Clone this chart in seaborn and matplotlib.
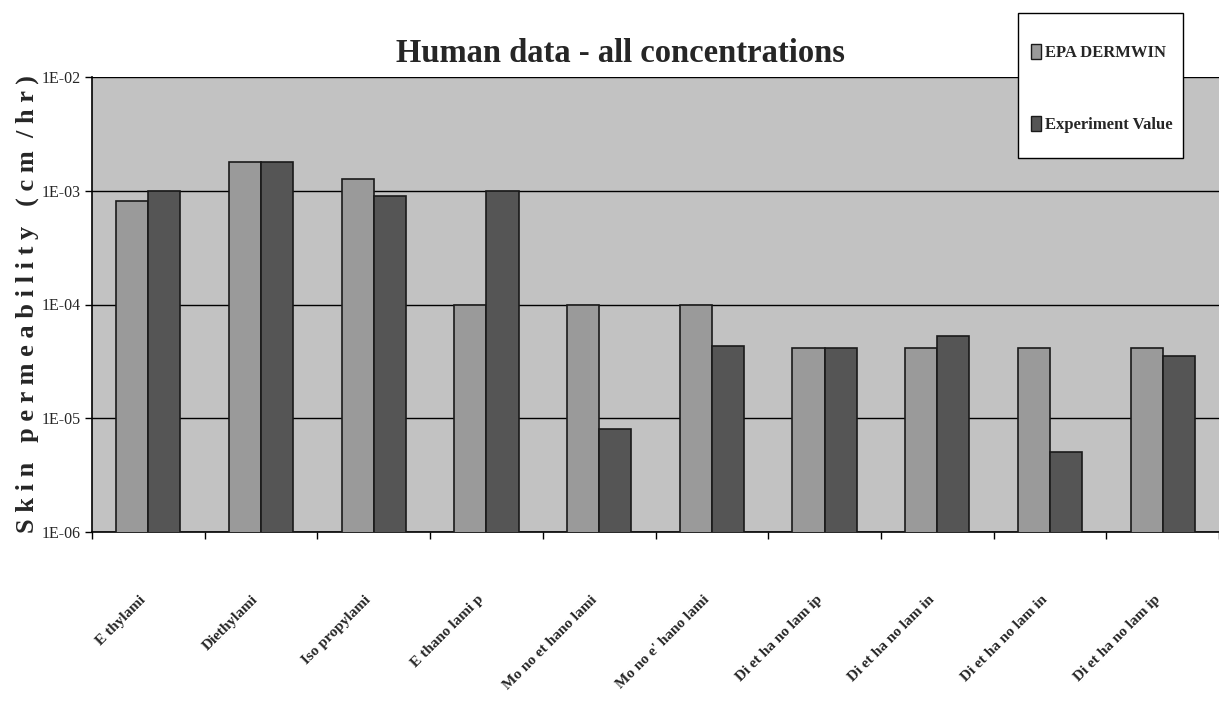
import numpy as np
import pandas as pd
import matplotlib
matplotlib.use("Agg")
import matplotlib.pyplot as plt
import seaborn as sns
from matplotlib.patches import Patch, Rectangle

categories = ["E thylami", "Diethylami", "Iso propylami", "E thano lami p",
              "Mo no et hano lami", "Mo no e' hano lami", "Di et ha no lam ip",
              "Di et ha no lam in", "Di et ha no lam in", "Di et ha no lam ip"]
epa_dermwin = [8.1e-4, 1.8e-3, 1.27e-3, 9.8e-5, 9.8e-5, 9.8e-5, 4.15e-5, 4.15e-5, 4.15e-5, 4.15e-5]
experiment = [1.0e-3, 1.8e-3, 9.0e-4, 1.0e-3, 8.0e-6, 4.3e-5, 4.15e-5, 5.3e-5, 5.0e-6, 3.5e-5]
series_names = ["EPA DERMWIN", "Experiment Value"]
ytick_values = [1e-6, 1e-5, 1e-4, 1e-3, 1e-2]
ytick_labels = ["1E-06", "1E-05", "1E-04", "1E-03", "1E-02"]

ids = [f"c{i}" for i in range(len(categories))]
df = pd.DataFrame({
    "cat": ids * 2,
    "series": [series_names[0]] * len(ids) + [series_names[1]] * len(ids),
    "value": epa_dermwin + experiment,
})

sns.set_style("white")
plt.rcParams["font.family"] = ["Liberation Serif", "DejaVu Serif"]

W, H = 1219, 702
fig = plt.figure(figsize=(W / 100, H / 100), dpi=100)
ax = fig.add_axes([92 / W, 1 - 532 / H, 1 - 92 / W, (532 - 77) / H])
ax.set_facecolor("#c2c2c2")
ax.set_yscale("log")

palette = {series_names[0]: "#9a9a9a", series_names[1]: "#555555"}
sns.barplot(data=df, x="cat", y="value", hue="series", order=ids,
            hue_order=series_names, palette=palette, width=0.57, gap=0,
            edgecolor="#1a1a1a", linewidth=1.2, saturation=1, ax=ax,
            legend=False, zorder=3)

ax.set_ylim(1e-6, 1e-2)
ax.set_xlim(-0.5, len(categories) - 0.5)
ax.set_yticks(ytick_values)
ax.set_yticklabels(ytick_labels, fontsize=11.5)
ax.yaxis.set_minor_locator(matplotlib.ticker.NullLocator())
ax.grid(axis="y", which="major", color="black", linewidth=1.0, zorder=1)
ax.set_axisbelow(True)
ax.tick_params(axis="y", which="major", length=5, width=1, direction="out",
               color="black", pad=3, left=True)

# group boundary ticks, labels at centers
ax.set_xticks(np.arange(-0.5, len(categories), 1.0))
ax.set_xticklabels([])
ax.tick_params(axis="x", which="major", length=5, width=1, color="black", bottom=True)
ax.set_xticks(np.arange(len(categories)), minor=True)
ax.set_xticklabels(categories, minor=True, rotation=45, ha="right", va="top",
                   fontsize=11, fontweight="bold")
ax.tick_params(axis="x", which="minor", length=0, pad=44)
ax.set_xlabel("")
ax.set_ylabel("S k i n   p e r m e a b i l i t y   ( c m  / h r )", fontsize=19,
              fontweight="bold", labelpad=2)

for side in ["top", "right"]:
    ax.spines[side].set_visible(False)
for side in ["left", "bottom"]:
    ax.spines[side].set_color("black")
    ax.spines[side].set_linewidth(1.2)

fig.text(620 / W, 1 - 54 / H, "Human data - all concentrations", ha="center",
         va="center", fontsize=23.5, fontweight="bold")

# legend frame
fig.patches.append(Rectangle((1018 / W, 1 - 158 / H), (1183 - 1018) / W, (158 - 13) / H,
                             transform=fig.transFigure, facecolor="white",
                             edgecolor="black", linewidth=1.0, zorder=5))
handles = [Patch(facecolor=palette[s], edgecolor="#1a1a1a", linewidth=1) for s in series_names]
leg = fig.legend(handles, series_names, loc="upper left",
                 bbox_to_anchor=(1031 / W, 1 - 44 / H), frameon=False,
                 fontsize=12, handlelength=0.6, handleheight=1.05,
                 handletextpad=0.25, labelspacing=3.25, borderpad=0,
                 borderaxespad=0)
leg.set_zorder(6)
for t in leg.get_texts():
    t.set_fontweight("bold")

fig.savefig("out.png", dpi=100)
